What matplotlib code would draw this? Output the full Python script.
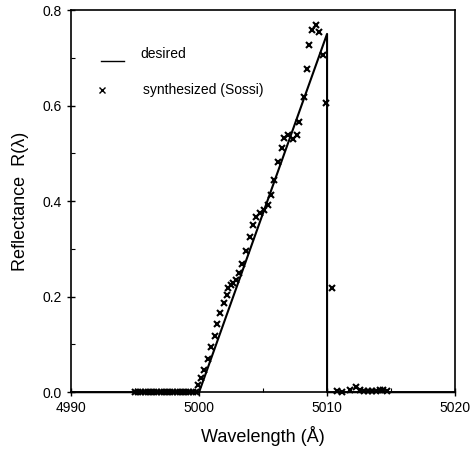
import matplotlib
matplotlib.use("Agg")
import matplotlib.pyplot as plt
from matplotlib.ticker import MultipleLocator

plt.rcParams['font.family'] = ['Liberation Sans', 'DejaVu Sans']

# desired reflectance profile
x_des = [4990, 5000, 5010, 5010, 5020]
y_des = [0.0, 0.0, 0.75, 0.0, 0.0]

# synthesized (Sossi) points
x_syn = [4995.0, 4995.25, 4995.5, 4995.75, 4996.0, 4996.25, 4996.5, 4996.75,
         4997.0, 4997.25, 4997.5, 4997.75, 4998.0, 4998.25, 4998.5, 4998.75,
         4999.0, 4999.25, 4999.5, 4999.75,
         4999.95, 5000.16, 5000.42, 5000.66, 5000.94, 5001.25, 5001.38, 5001.64,
         5001.95, 5002.16, 5002.29, 5002.47, 5002.62, 5002.89, 5003.15, 5003.38,
         5003.65, 5003.98, 5004.19, 5004.45, 5004.77, 5005.1, 5005.37, 5005.6,
         5005.86, 5006.2, 5006.46, 5006.64, 5006.98, 5007.37, 5007.63, 5007.84,
         5008.2, 5008.41, 5008.62, 5008.86, 5009.14, 5009.4, 5009.71, 5009.9,
         5010.41,
         5010.8, 5011.2, 5011.8, 5012.3, 5012.6, 5012.9, 5013.2, 5013.5, 5013.8,
         5014.1, 5014.4, 5014.7]
y_syn = [0.0] * 20 + \
        [0.015, 0.029, 0.047, 0.07, 0.095, 0.117, 0.142, 0.165,
         0.187, 0.203, 0.219, 0.224, 0.228, 0.235, 0.25, 0.268,
         0.296, 0.325, 0.35, 0.367, 0.375, 0.381, 0.392, 0.413,
         0.445, 0.481, 0.512, 0.533, 0.538, 0.529, 0.538, 0.566,
         0.618, 0.676, 0.727, 0.758, 0.769, 0.753, 0.706, 0.606,
         0.218,
         0.003, 0.0, 0.005, 0.01, 0.004, 0.002, 0.002, 0.002, 0.003,
         0.005, 0.004, 0.002]

fig = plt.figure(figsize=(4.74, 4.55), dpi=100)
ax = fig.add_axes([0.150, 0.138, 0.810, 0.840])

ax.plot(x_des, y_des, '-', color='black', linewidth=1.5, clip_on=False)
ax.plot(x_syn, y_syn, 'x', color='black', markersize=4.5, markeredgewidth=1.5,
        clip_on=False)

ax.set_xlim(4990, 5020)
ax.set_ylim(0, 0.8)
ax.set_xticks([4990, 5000, 5010, 5020])
ax.set_yticks([0.0, 0.2, 0.4, 0.6, 0.8])
ax.set_yticklabels(['0.0', '0.2', '0.4', '0.6', '0.8'])
ax.xaxis.set_minor_locator(MultipleLocator(5))
ax.yaxis.set_minor_locator(MultipleLocator(0.1))
ax.tick_params(which='major', direction='inout', length=6, width=1, labelsize=10)
ax.tick_params(which='minor', direction='in', length=3, width=0.8)
for s in ax.spines.values():
    s.set_linewidth(1.2)

ax.set_xlabel('Wavelength (Å)', fontsize=13, labelpad=8)
ax.set_ylabel('Reflectance  R(λ)', fontsize=13, labelpad=10)

# hand-made legend
ax.plot([4992.3, 4994.1], [0.694, 0.694], '-', color='black', linewidth=1.0)
ax.text(4995.4, 0.707, 'desired', fontsize=10, va='center')
ax.plot([4992.4], [0.632], 'x', color='black', markersize=4, markeredgewidth=1.0)
ax.text(4995.6, 0.632, 'synthesized (Sossi)', fontsize=10, va='center')

fig.savefig('out.png', dpi=100)
